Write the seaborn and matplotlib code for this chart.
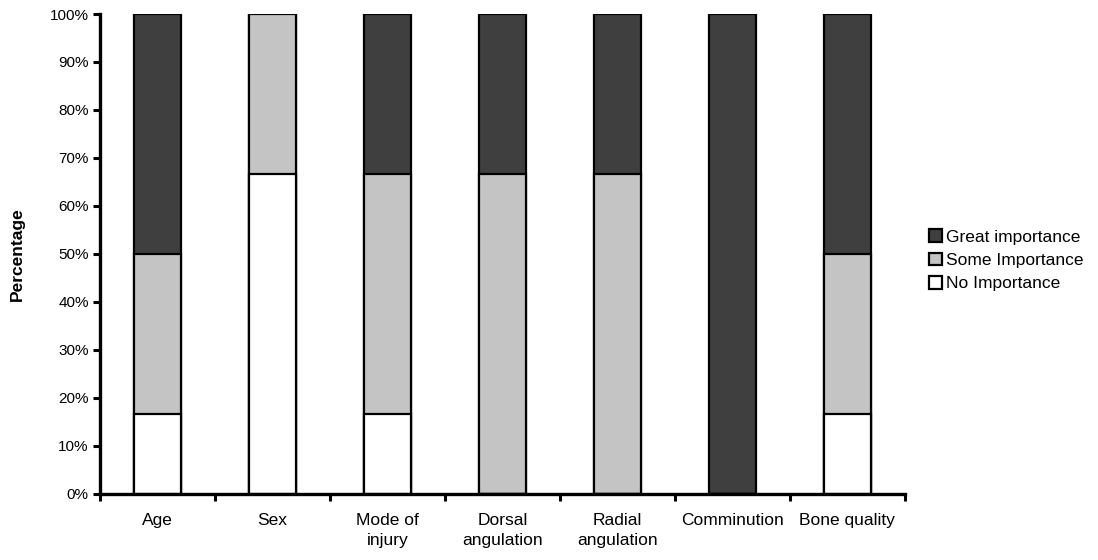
import pandas as pd
import numpy as np
import matplotlib
matplotlib.use('Agg')
import matplotlib.pyplot as plt
import seaborn as sns
from matplotlib.patches import Patch

# Data (percent of respondents)
factors = ['Age', 'Sex', 'Mode of\ninjury', 'Dorsal\nangulation', 'Radial\nangulation',
           'Comminution', 'Bone quality']
no_imp = [16.7, 66.7, 16.7, 0, 0, 0, 16.7]
some_imp = [33.3, 33.3, 50.0, 66.7, 66.7, 0, 33.3]
great_imp = [50.0, 0, 33.3, 33.3, 33.3, 100.0, 50.0]

df = pd.DataFrame({'factor': factors, 'no': no_imp, 'some': some_imp, 'great': great_imp})
df['no_some'] = df['no'] + df['some']
df['total'] = df['no_some'] + df['great']

sns.set_style('white')
plt.rcParams['font.family'] = ['Liberation Sans', 'DejaVu Sans']
plt.rcParams['text.color'] = 'black'
plt.rcParams['axes.labelcolor'] = 'black'
plt.rcParams['xtick.color'] = 'black'
plt.rcParams['ytick.color'] = 'black'

fig, ax = plt.subplots(figsize=(10.98, 5.6), dpi=100)
fig.subplots_adjust(left=0.091, right=0.824, top=0.975, bottom=0.118)

# stack by drawing cumulative totals, largest first
sns.barplot(data=df, x='factor', y='total', color='#3f3f3f', edgecolor='black',
            linewidth=1.6, width=0.41, saturation=1, ax=ax)
sns.barplot(data=df, x='factor', y='no_some', color='#c4c4c4', edgecolor='black',
            linewidth=1.6, width=0.41, saturation=1, ax=ax)
sns.barplot(data=df, x='factor', y='no', color='white', edgecolor='black',
            linewidth=1.6, width=0.41, saturation=1, ax=ax)

ax.set_xlim(-0.5, len(factors) - 0.5)
ax.set_ylim(0, 100)
ax.set_yticks(np.arange(0, 101, 10))
ax.set_yticklabels([f'{v}%' for v in range(0, 101, 10)])
ax.set_xlabel('')
ax.set_ylabel('Percentage', fontsize=12.5, fontweight='bold', labelpad=18)

ax.set_xticks(np.arange(len(factors)))
ax.set_xticklabels(factors, fontsize=12.5, linespacing=1.35)
ax.set_xticks(np.arange(-0.5, len(factors), 1), minor=True)
ax.tick_params(axis='x', which='major', length=0, pad=14)
ax.tick_params(axis='x', which='minor', direction='out', length=5, width=2.2)
ax.tick_params(axis='y', direction='out', length=5, width=2.2, labelsize=11, pad=3)
ax.yaxis.set_ticks_position('left')
ax.xaxis.set_ticks_position('bottom')

for side in ['top', 'right']:
    ax.spines[side].set_visible(False)
for side in ['left', 'bottom']:
    ax.spines[side].set_linewidth(2.4)
    ax.spines[side].set_color('black')

handles = [Patch(facecolor='#3f3f3f', edgecolor='black', linewidth=1.6, label='Great importance'),
           Patch(facecolor='#c4c4c4', edgecolor='black', linewidth=1.6, label='Some Importance'),
           Patch(facecolor='white', edgecolor='black', linewidth=1.6, label='No Importance')]
fig.legend(handles=handles, loc='center left', bbox_to_anchor=(0.832, 0.535), frameon=False,
           fontsize=12.5, handlelength=0.75, handleheight=0.75, handletextpad=0.2, labelspacing=0.45)

fig.savefig('out.png', dpi=100)
